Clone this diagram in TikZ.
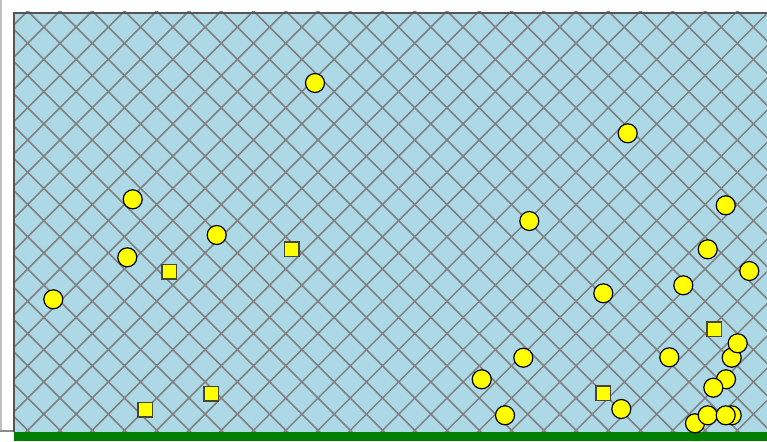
\documentclass[tikz,border=0pt]{standalone}
\usepackage{tikz}
\definecolor{poolblue}{RGB}{173,216,230}
\definecolor{netgray}{RGB}{128,128,128}
\definecolor{edgegray}{RGB}{85,85,85}
\definecolor{turf}{RGB}{0,128,0}
\definecolor{ballyellow}{RGB}{255,255,0}
\definecolor{crateedge}{RGB}{70,70,50}
\tikzset{
  ball/.style={circle, draw=black, fill=ballyellow, line width=1.2pt, minimum size=19pt, inner sep=0pt},
  crate/.style={rectangle, draw=crateedge, fill=ballyellow, line width=1.5pt, minimum size=14.5pt, inner sep=0pt},
  hatchline/.style={netgray, line width=1.5pt}
}
\begin{document}
\begin{tikzpicture}[x=1pt, y=-1pt]
\useasboundingbox (0,0) rectangle (767,441);
% white strip on the left
\draw[black!25, line width=1.5pt] (1,0) -- (1,431);
\draw[black!45, line width=1.5pt] (0,431) -- (14,431);
% water with net
\fill[poolblue] (14,12) rectangle (767,432);
\begin{scope}
  \clip (14,12) rectangle (767,432);
  \foreach \k in {-14,...,24} \draw[hatchline] ({16.7+32.25*\k},0) -- ++(441,441);
  \foreach \k in {-3,...,34} \draw[hatchline] ({103.3+32.25*\k},0) -- ++(-441,441);
\end{scope}
\draw[edgegray, line width=2pt] (14,432) -- (14,13) -- (767,13);
% ground
\fill[turf] (14,432) rectangle (767,441);
% crates
\foreach \x/\y [count=\i] in {169/271.5, 291.5/249.3, 714/329.3, 211/393.8, 145/409.8, 603.3/393.3}
  \node[crate] (s\i) at (\x,\y) {};
% balls (back ones first)
\foreach \x/\y [count=\i] in {315/83, 627.7/133.3, 132.7/199.3, 529.3/221, 725.7/205.3, 216.7/235,
  127.3/257.3, 707.7/249.3, 749.3/271, 53.3/299.3, 603.3/293.3, 683.3/285.3,
  731.7/357.7, 737.7/343.3, 669.3/357.3, 523.3/357.7, 481.7/379.3, 726/379.3, 713.3/387.7,
  505/415.3, 621.3/409, 695/423.3, 707.7/415.3, 731.7/415.3, 725.7/415.3}
  \node[ball] (b\i) at (\x,\y) {};
\end{tikzpicture}
\end{document}
